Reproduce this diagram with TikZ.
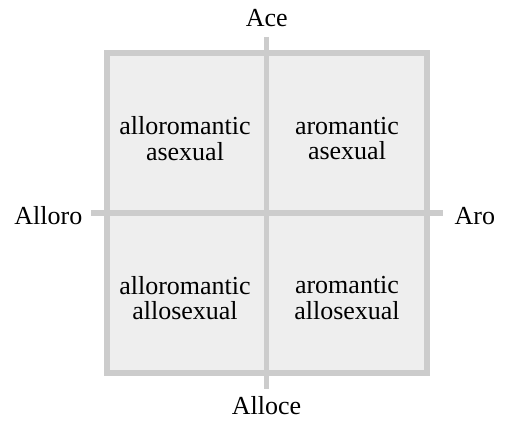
\documentclass[tikz,border=0pt]{standalone}
\usepackage{fontspec}
\setmainfont{Liberation Serif}
\definecolor{lineg}{HTML}{CCCCCC}
\definecolor{fillg}{HTML}{EEEEEE}
\begin{document}
\begin{tikzpicture}[x=1pt,y=-1pt,
  axisline/.style={draw=lineg,line width=5.3pt},
  lbl/.style={inner sep=0pt,font=\fontsize{26}{25.5}\selectfont},
  quad/.style={lbl,align=center}]
\useasboundingbox (0,0) rectangle (512,427);
\node[fill=fillg,draw=lineg,line width=5.3pt,minimum width=320pt,minimum height=320pt,inner sep=0pt] (box) at (267,213) {};
\coordinate (top) at (266.5,37);
\coordinate (bot) at (266.5,389);
\coordinate (left) at (91,213);
\coordinate (right) at (443,213);
\draw[axisline] (top) -- (bot);
\draw[axisline] (left) -- (right);
\node[lbl,anchor=base] (ace) at (266.7,26.7) {Ace};
\node[lbl,anchor=base] (alloce) at (266.5,415) {Alloce};
\node[lbl,anchor=base east] (alloro) at (82.5,224.5) {Alloro};
\node[lbl,anchor=base west] (aro) at (454.5,224.5) {Aro};
\node[quad] (q1) at (185,138.5) {alloromantic\\asexual};
\node[quad] (q2) at (347,138.5) {aromantic\\asexual};
\node[quad] (q3) at (185,298) {alloromantic\\allosexual};
\node[quad] (q4) at (347,298) {aromantic\\allosexual};
\end{tikzpicture}
\end{document}
